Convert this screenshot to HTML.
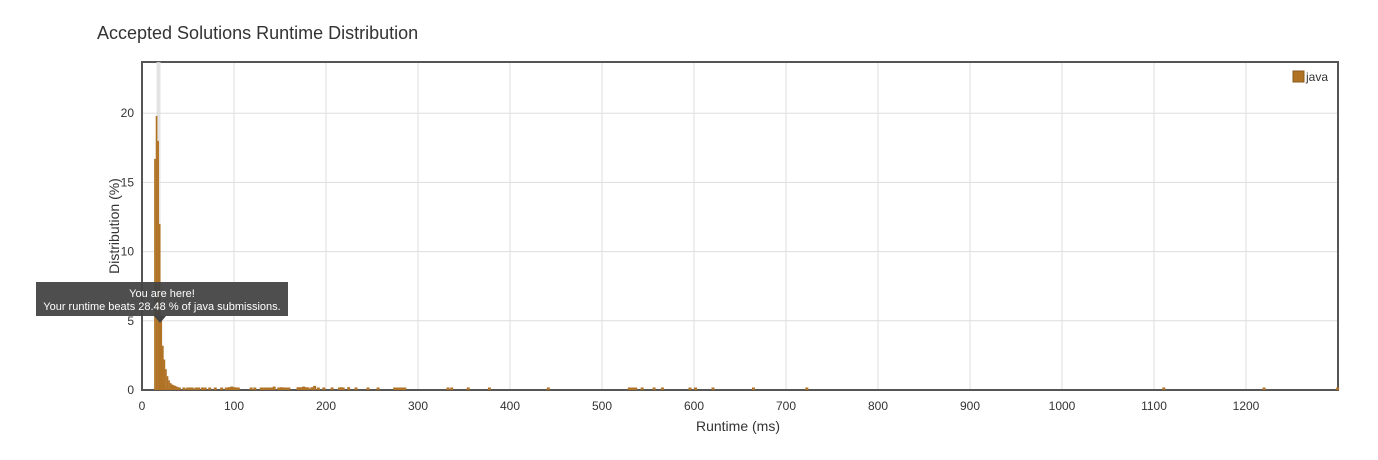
<!DOCTYPE html>
<html><head><meta charset="utf-8"><style>
body{margin:0;background:#fff;font-family:"Liberation Sans",sans-serif;}
</style></head><body>
<svg width="1378" height="455" xmlns="http://www.w3.org/2000/svg">
<text x="97" y="39" font-size="18" fill="#333">Accepted Solutions Runtime Distribution</text>
<g id="grid"></g>
<rect x="142" y="62" width="1196" height="328" fill="none" stroke="#555" stroke-width="2"/>
<rect x="156.5" y="62" width="4" height="328" fill="#ddd" opacity="0.8"/>
<g id="bars"></g>
<g id="ticks"></g>
<text x="738" y="431" font-size="14" fill="#333" text-anchor="middle">Runtime (ms)</text>
<text transform="translate(119,226) rotate(-90)" font-size="14" fill="#333" text-anchor="middle">Distribution (%)</text>
<g>
<rect x="1293" y="71" width="11" height="11" fill="#b07225" stroke="#8a5a1d"/>
<text x="1306" y="81" font-size="12" fill="#333">java</text>
</g>
<g>
<rect x="36" y="282" width="252" height="34" fill="#444" opacity="0.95"/>
<path d="M154 316 L166 316 L160 323 Z" fill="#444"/>
<text x="162" y="297" font-size="11" fill="#fff" text-anchor="middle">You are here!</text>
<text x="162" y="310" font-size="11" fill="#fff" text-anchor="middle">Your runtime beats 28.48 % of java submissions.</text>
</g>
</svg>
<script>
const peakMs=[13.2,14.9,16.6,18.3,20.0,21.7,23.4,25.1,26.8,28.5,30.2,31.9,33.6,35.3,37.0,38.7,40.4];
const peakVals=[16.7,19.8,18,12,5,3.2,2.2,1.5,1.0,0.7,0.5,0.4,0.35,0.3,0.25,0.2,0.15];
const tailMs=[44,48,50,53,57,60,64,67,72,78,85,90,93,96,99,101,103,117,121,128,131,134,137,139,142,147,150,153,156,158,168,171,174,177,179,183,186,190,196,205,213,215,217,223,231,244,255,273,276,279,282,284,331,335,353,376,440,528,531,533,535,542,555,564,594,600,619,663,721,1109,1218,1298];
const tailVals=[0.15,0.15,0.15,0.15,0.15,0.15,0.15,0.15,0.15,0.15,0.15,0.15,0.2,0.25,0.2,0.15,0.15,0.15,0.15,0.15,0.15,0.15,0.15,0.15,0.25,0.15,0.2,0.15,0.15,0.15,0.2,0.2,0.25,0.2,0.15,0.2,0.3,0.15,0.15,0.15,0.15,0.2,0.15,0.2,0.15,0.15,0.15,0.15,0.15,0.15,0.15,0.15,0.15,0.15,0.15,0.15,0.15,0.15,0.15,0.15,0.15,0.15,0.15,0.15,0.15,0.15,0.15,0.15,0.15,0.15,0.15,0.15];
const xTicks=[0,100,200,300,400,500,600,700,800,900,1000,1100,1200];
const yTicks=[0,5,10,15,20];
const NS="http://www.w3.org/2000/svg";
const X0=142,X1=1338,Y0=390,Y1=62,XMAX=1300,YMAX=23.7;
const xs=v=>X0+v/XMAX*(X1-X0);
const ys=v=>Y0-v/YMAX*(Y0-Y1);
const grid=document.getElementById('grid'),bars=document.getElementById('bars'),ticks=document.getElementById('ticks');
function mk(t,a,p){const e=document.createElementNS(NS,t);for(const k in a)e.setAttribute(k,a[k]);p.appendChild(e);return e;}
xTicks.forEach(t=>{
 const l=mk('line',{x1:xs(t),x2:xs(t),y1:Y1,y2:Y0,stroke:'#ddd'},grid);
 
 
 const tx=mk('text',{x:xs(t),y:410,'font-size':12,fill:'#333','text-anchor':'middle'},ticks);
 tx.textContent=t;
 
 
});
yTicks.forEach(t=>{
 const l=mk('line',{x1:X0,x2:X1,y1:ys(t),y2:ys(t),stroke:'#ddd'},grid);
 
 
 const tx=mk('text',{x:X0-8,y:ys(t)+4,'font-size':12,fill:'#333','text-anchor':'end'},ticks);
 tx.textContent=t;
 
 
});
function bar(ms,v,w){
 const h=Math.max(Y0-ys(v),2.5);
 const b=mk('rect',{x:xs(ms),y:Y0-h,width:w,height:h,fill:'#b07225'},bars);
 
 
}
peakMs.forEach((m,i)=>bar(m,peakVals[i],1.7));
tailMs.forEach((m,i)=>bar(m,tailVals[i],3));
</script>
</body></html>
